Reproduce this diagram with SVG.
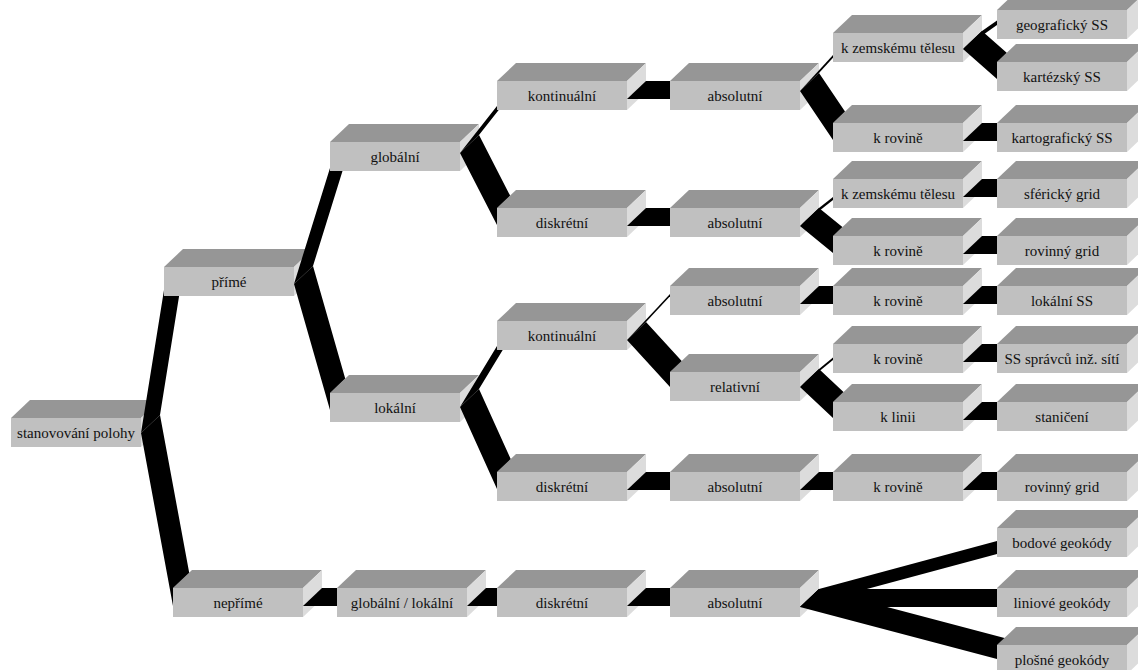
<svg xmlns="http://www.w3.org/2000/svg" xmlns:xlink="http://www.w3.org/1999/xlink" width="1138" height="670" viewBox="0 0 1138 670">
<style>
.front{fill:#c0c0c0}
.top{fill:#969696}
.side{fill:#dcdcdc}
.band{fill:#000}
</style>
<defs>
<g id="box">
<polygon class="top" points="0,0 19,-18 149,-18 130,0"/>
<polygon class="side" points="130,0 149,-18 149,11 130,29"/>
<rect class="front" x="0" y="0" width="130" height="29"/>
</g>
</defs>
<rect width="1138" height="670" fill="#fff"/>
<g id="nodes" font-family="'Liberation Serif', 'Times New Roman', serif" font-size="15" fill="#111" text-anchor="middle">
<g id="n0" transform="translate(11,418)"><use xlink:href="#box"/><text x="65" y="19.5">stanovování polohy</text></g>
<g id="n1" transform="translate(164,267)"><use xlink:href="#box"/><text x="65" y="19.5">přímé</text></g>
<g id="n2" transform="translate(173,588)"><use xlink:href="#box"/><text x="65" y="19.5">nepřímé</text></g>
<g id="n3" transform="translate(330,142)"><use xlink:href="#box"/><text x="65" y="19.5">globální</text></g>
<g id="n4" transform="translate(330,393)"><use xlink:href="#box"/><text x="65" y="19.5">lokální</text></g>
<g id="n5" transform="translate(337,588)"><use xlink:href="#box"/><text x="65" y="19.5">globální / lokální</text></g>
<g id="n6" transform="translate(497,81)"><use xlink:href="#box"/><text x="65" y="19.5">kontinuální</text></g>
<g id="n7" transform="translate(497,208)"><use xlink:href="#box"/><text x="65" y="19.5">diskrétní</text></g>
<g id="n8" transform="translate(497,321)"><use xlink:href="#box"/><text x="65" y="19.5">kontinuální</text></g>
<g id="n9" transform="translate(497,472)"><use xlink:href="#box"/><text x="65" y="19.5">diskrétní</text></g>
<g id="n10" transform="translate(497,588)"><use xlink:href="#box"/><text x="65" y="19.5">diskrétní</text></g>
<g id="n11" transform="translate(670,81)"><use xlink:href="#box"/><text x="65" y="19.5">absolutní</text></g>
<g id="n12" transform="translate(670,208)"><use xlink:href="#box"/><text x="65" y="19.5">absolutní</text></g>
<g id="n13" transform="translate(670,286)"><use xlink:href="#box"/><text x="65" y="19.5">absolutní</text></g>
<g id="n14" transform="translate(670,372)"><use xlink:href="#box"/><text x="65" y="19.5">relativní</text></g>
<g id="n15" transform="translate(670,472)"><use xlink:href="#box"/><text x="65" y="19.5">absolutní</text></g>
<g id="n16" transform="translate(670,588)"><use xlink:href="#box"/><text x="65" y="19.5">absolutní</text></g>
<g id="n17" transform="translate(833,33)"><use xlink:href="#box"/><text x="65" y="19.5">k zemskému tělesu</text></g>
<g id="n18" transform="translate(833,123)"><use xlink:href="#box"/><text x="65" y="19.5">k rovině</text></g>
<g id="n19" transform="translate(833,179)"><use xlink:href="#box"/><text x="65" y="19.5">k zemskému tělesu</text></g>
<g id="n20" transform="translate(833,236)"><use xlink:href="#box"/><text x="65" y="19.5">k rovině</text></g>
<g id="n21" transform="translate(833,286)"><use xlink:href="#box"/><text x="65" y="19.5">k rovině</text></g>
<g id="n22" transform="translate(833,344)"><use xlink:href="#box"/><text x="65" y="19.5">k rovině</text></g>
<g id="n23" transform="translate(833,402)"><use xlink:href="#box"/><text x="65" y="19.5">k linii</text></g>
<g id="n24" transform="translate(833,472)"><use xlink:href="#box"/><text x="65" y="19.5">k rovině</text></g>
<g id="n25" transform="translate(997,10)"><use xlink:href="#box"/><text x="65" y="19.5">geografický SS</text></g>
<g id="n26" transform="translate(997,62)"><use xlink:href="#box"/><text x="65" y="19.5">kartézský SS</text></g>
<g id="n27" transform="translate(997,123)"><use xlink:href="#box"/><text x="65" y="19.5">kartografický SS</text></g>
<g id="n28" transform="translate(997,179)"><use xlink:href="#box"/><text x="65" y="19.5">sférický grid</text></g>
<g id="n29" transform="translate(997,236)"><use xlink:href="#box"/><text x="65" y="19.5">rovinný grid</text></g>
<g id="n30" transform="translate(997,286)"><use xlink:href="#box"/><text x="65" y="19.5">lokální SS</text></g>
<g id="n31" transform="translate(997,344)"><use xlink:href="#box"/><text x="65" y="19.5">SS správců inž. sítí</text></g>
<g id="n32" transform="translate(997,402)"><use xlink:href="#box"/><text x="65" y="19.5">staničení</text></g>
<g id="n33" transform="translate(997,472)"><use xlink:href="#box"/><text x="65" y="19.5">rovinný grid</text></g>
<g id="n34" transform="translate(997,528)"><use xlink:href="#box"/><text x="65" y="19.5">bodové geokódy</text></g>
<g id="n35" transform="translate(997,588)"><use xlink:href="#box"/><text x="65" y="19.5">liniové geokódy</text></g>
<g id="n36" transform="translate(997,645)"><use xlink:href="#box"/><text x="65" y="19.5">plošné geokódy</text></g>
</g>
<g id="connectors">
<polygon class="band" points="141,433 160,415 179.1,296 164,296 164,290"/>
<polygon class="band" points="141,433 160,415 189.2,572.7 173,588 173,606"/>
<polygon class="band" points="294,284 313,266 342.5,171 330,171 330,168"/>
<polygon class="band" points="294,284 313,266 345.2,378.6 330,393 330,410"/>
<polygon class="band" points="303,606 322,588 337,588 337,606"/>
<polygon class="band" points="460,153 479,135 498.7,110 497,110 497,106"/>
<polygon class="band" points="460,153 479,135 510.1,195.6 497,208 497,225"/>
<polygon class="band" points="460,407 479,389 502.7,350 497,350 497,346"/>
<polygon class="band" points="460,407 479,389 510.7,459 497,472 497,489"/>
<polygon class="band" points="467,606 486,588 497,588 497,606"/>
<polygon class="band" points="627,99 646,81 670,81 670,99"/>
<polygon class="band" points="627,226 646,208 670,208 670,226"/>
<polygon class="band" points="627,340 646,322 670,296.3 670,294"/>
<polygon class="band" points="627,340 646,322 681.7,360.9 670,372 670,387"/>
<polygon class="band" points="627,490 646,472 670,472 670,490"/>
<polygon class="band" points="627,606 646,588 670,588 670,606"/>
<polygon class="band" points="800,91 819,73 833,57.7 833,55"/>
<polygon class="band" points="800,91 819,73 845,111.6 833,123 833,140"/>
<polygon class="band" points="800,226 819,208 833,197 833,200"/>
<polygon class="band" points="800,226 819,208 842.4,227.1 833,236 833,253"/>
<polygon class="band" points="800,304 819,286 833,286 833,304"/>
<polygon class="band" points="800,387 819,369 833,357.5 833,360"/>
<polygon class="band" points="800,387 819,369 843.5,392.1 833,402 833,418"/>
<polygon class="band" points="800,490 819,472 833,472 833,490"/>
<polygon class="band" points="800,607 819,589 997,541.1 997,554"/>
<polygon class="band" points="800,607 819,589 997,589 997,607"/>
<polygon class="band" points="800,607 819,589 1004.5,637.9 997,645 997,659"/>
<polygon class="band" points="963,49 982,31 997,20.4 997,25"/>
<polygon class="band" points="963,49 982,31 1006.7,52.8 997,62 997,79"/>
<polygon class="band" points="963,141 982,123 997,123 997,141"/>
<polygon class="band" points="963,197 982,179 997,179 997,197"/>
<polygon class="band" points="963,254 982,236 997,236 997,254"/>
<polygon class="band" points="963,304 982,286 997,286 997,304"/>
<polygon class="band" points="963,362 982,344 997,344 997,362"/>
<polygon class="band" points="963,420 982,402 997,402 997,420"/>
<polygon class="band" points="963,490 982,472 997,472 997,490"/>
</g>
</svg>
